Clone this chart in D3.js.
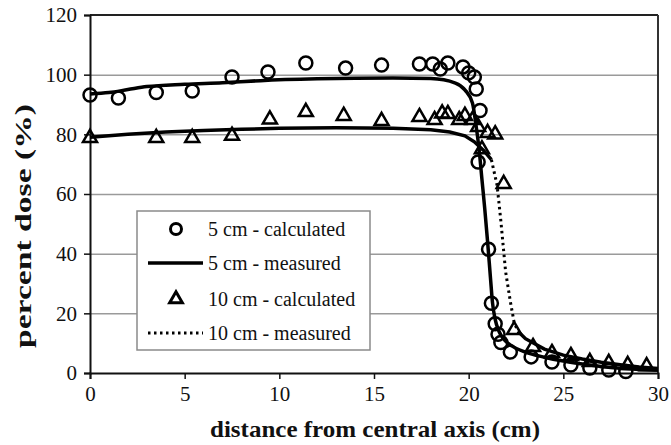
<!DOCTYPE html>
<html>
<head>
<meta charset="utf-8">
<script src="https://cdn.jsdelivr.net/npm/d3@7"></script>
<style>
  body { margin: 0; background: #fff; }
  svg text { font-family: "Liberation Serif", "DejaVu Serif", serif; fill: #111; }
</style>
</head>
<body>
<div id="chart"></div>
<script>
// percent dose profiles
var calc5 = [
  [0,93.2],[1.5,92.2],[3.5,94],[5.4,94.5],[7.5,99.2],[9.4,100.9],[11.4,103.9],[13.5,102.2],
  [15.4,103.2],[17.4,103.6],[18.1,103.6],[18.5,101.9],[18.9,103.9],[19.7,102.6],[20.0,100.6],
  [20.3,99.2],[20.4,95.2],[20.6,88],[20.5,70.7],[21.05,41.5],[21.2,23.4],[21.4,16.5],
  [21.55,13],[21.7,10.2],[22.2,7],[23.3,5.4],[24.4,3.7],[25.4,2.7],[26.4,1.7],[27.4,1],[28.3,0.5]
];
var meas5 = [
  [0,93.5],[1,94],[2,95],[3,96],[5,96.8],[7,97.3],[9,98],[12,98.6],[16,98.9],[18,98.7],
  [19.3,97.2],[19.8,94.9],[20.2,90.5],[20.4,82.5],[20.55,75],[20.7,65],[20.85,55],[21.0,44],
  [21.15,32],[21.26,23.5],[21.4,18],[21.6,14],[21.9,11],[22.3,9],[23,7],[24,5.3],[25,4],
  [26,3],[27,2.2],[28,1.6],[29,1.2],[30,0.9]
];
var calc10 = [
  [0,78.8],[3.5,78.8],[5.4,78.8],[7.5,79.5],[9.5,85],[11.4,87.5],[13.4,86.2],[15.4,84.5],
  [17.4,85.8],[18.2,84.8],[18.6,87],[18.9,86.8],[19.5,84.8],[19.8,86.2],[20.2,84.8],[20.5,82.5],
  [20.7,75],[21.0,80.5],[21.4,80],[21.85,63.4],[22.4,14.4],[23.4,8.7],[24.4,6.7],[25.4,5.7],
  [26.4,3.7],[27.4,3.4],[28.4,2.7],[29.4,2.3]
];
var meas10 = [
  [0,79],[2,80],[4,80.8],[6,81.3],[8,81.7],[10,82],[13,82.2],[16,82],[18,81.5],[19,80.8],
  [19.8,79.5],[20.3,77.5],[20.8,74.5],[21.2,71.5],[21.5,63],[21.7,51],[21.95,34],[22.2,24],
  [22.4,17],[22.6,14],[23,11.5],[24,8],[25,6],[26,4.7],[27,3.6],[28,2.8],[29,2],[30,1.5]
];
var xTicks = [0,5,10,15,20,25,30];
var yTicks = [0,20,40,60,80,100,120];
var legendLabels = ["5 cm - calculated","5 cm - measured","10 cm - calculated","10 cm - measured"];

function main() {
  var W = 671, H = 445;
  var pl = 90, pr = 658, pt = 15, pb = 373;

  var svg = d3.select("#chart").append("svg")
    .attr("width", W).attr("height", H);

  var x = d3.scaleLinear().domain([0,30]).range([pl, pr]);
  var y = d3.scaleLinear().domain([0,120]).range([pb, pt]);

  // gridlines
  svg.append("g")
    .attr("transform", "translate(" + pl + ",0)")
    .call(d3.axisLeft(y).tickValues(yTicks.slice(1, -1)).tickSize(-(pr - pl)).tickFormat(""))
    .call(g => g.select(".domain").remove())
    .selectAll("line").attr("stroke", "#9a9a9a").attr("stroke-width", 1.5);

  // frame top / right
  svg.append("line").attr("x1", pl).attr("x2", pr).attr("y1", pt).attr("y2", pt)
    .attr("stroke", "#222").attr("stroke-width", 2);
  svg.append("line").attr("x1", pr).attr("x2", pr).attr("y1", pt).attr("y2", pb)
    .attr("stroke", "#333").attr("stroke-width", 2);

  // axes
  var yAxis = svg.append("g")
    .attr("transform", "translate(" + pl + ",0)")
    .call(d3.axisLeft(y).tickValues(yTicks).tickSize(6).tickPadding(7));
  var xAxis = svg.append("g")
    .attr("transform", "translate(0," + pb + ")")
    .call(d3.axisBottom(x).tickValues(xTicks).tickSize(6).tickPadding(7));
  [xAxis, yAxis].forEach(function(a) {
    a.select(".domain").attr("stroke", "#111").attr("stroke-width", 2);
    a.selectAll(".tick line").attr("stroke", "#111").attr("stroke-width", 1.5);
    a.selectAll(".tick text").style("font-family", "'Liberation Serif', serif").attr("font-size", 21).attr("fill", "#111");
  });

  // axis titles
  svg.append("text")
    .attr("x", 375).attr("y", 437)
    .attr("text-anchor", "middle").attr("font-size", 23).attr("font-weight", "bold")
    .attr("textLength", 330).attr("lengthAdjust", "spacingAndGlyphs")
    .text("distance from central axis (cm)");
  svg.append("text")
    .attr("transform", "translate(31,226) rotate(-90)")
    .attr("text-anchor", "middle").attr("font-size", 24).attr("font-weight", "bold")
    .attr("textLength", 244).attr("lengthAdjust", "spacingAndGlyphs")
    .text("percent dose (%)");

  var line = d3.line().x(d => x(d[0])).y(d => y(d[1])).curve(d3.curveMonotoneX);

  // 5 cm measured
  svg.append("path").datum(meas5)
    .attr("d", line).attr("fill", "none").attr("stroke", "#000").attr("stroke-width", 3.5);

  // 10 cm measured: dotted where steep, dense-looking (solid) where flat
  var runs = [], cur = [meas10[0]], curSteep = null;
  for (var i = 1; i < meas10.length; i++) {
    var a = meas10[i - 1], b = meas10[i];
    var steep = Math.abs(y(b[1]) - y(a[1])) / Math.abs(x(b[0]) - x(a[0])) > 2;
    if (curSteep === null) curSteep = steep;
    if (steep !== curSteep) {
      runs.push({pts: cur, steep: curSteep});
      cur = [a];
      curSteep = steep;
    }
    cur.push(b);
  }
  runs.push({pts: cur, steep: curSteep});
  runs.forEach(function(r) {
    svg.append("path").datum(r.pts)
      .attr("d", d3.line().x(d => x(d[0])).y(d => y(d[1])))
      .attr("fill", "none").attr("stroke", "#000")
      .attr("stroke-width", r.steep ? 3 : 3.5)
      .attr("stroke-dasharray", r.steep ? "2.5,3.5" : null);
  });

  // markers
  svg.selectAll(".c5").data(calc5).enter().append("circle")
    .attr("class", "c5")
    .attr("cx", d => x(d[0])).attr("cy", d => y(d[1])).attr("r", 6.5)
    .attr("fill", "none").attr("stroke", "#000").attr("stroke-width", 2.5);

  var tri = d3.symbol().type(d3.symbolTriangle).size(85);
  svg.selectAll(".t10").data(calc10).enter().append("path")
    .attr("class", "t10")
    .attr("transform", d => "translate(" + x(d[0]) + "," + y(d[1]) + ")")
    .attr("d", tri).attr("fill", "none").attr("stroke", "#000").attr("stroke-width", 2.5);

  // legend
  var lg = svg.append("g");
  lg.append("rect").attr("x", 137).attr("y", 211).attr("width", 233).attr("height", 139)
    .attr("fill", "#fff").attr("stroke", "#8a8a8a").attr("stroke-width", 1.5);
  var rowsY = [229, 263, 299, 333];
  lg.append("circle").attr("cx", 176).attr("cy", rowsY[0]).attr("r", 5.5)
    .attr("fill", "none").attr("stroke", "#000").attr("stroke-width", 3);
  lg.append("line").attr("x1", 148).attr("x2", 203).attr("y1", rowsY[1]).attr("y2", rowsY[1])
    .attr("stroke", "#000").attr("stroke-width", 3.5);
  lg.append("path").attr("transform", "translate(176," + rowsY[2] + ")")
    .attr("d", d3.symbol().type(d3.symbolTriangle).size(70))
    .attr("fill", "none").attr("stroke", "#000").attr("stroke-width", 3);
  lg.append("line").attr("x1", 148).attr("x2", 203).attr("y1", rowsY[3]).attr("y2", rowsY[3])
    .attr("stroke", "#000").attr("stroke-width", 3).attr("stroke-dasharray", "2.5,3.5");
  lg.selectAll(".lt").data(legendLabels).enter().append("text")
    .attr("class", "lt")
    .attr("x", 208).attr("y", (d, i) => rowsY[i]).attr("dy", "0.35em")
    .attr("font-size", 20)
    .text(d => d);
}

main();
</script>
</body>
</html>
